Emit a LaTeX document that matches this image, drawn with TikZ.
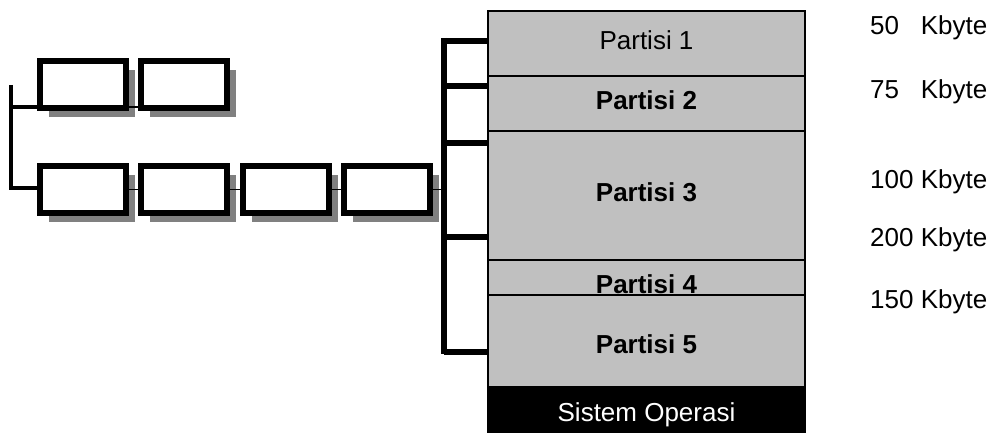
\documentclass[tikz,border=0pt]{standalone}
\usepackage{fontspec}
\setmainfont{Liberation Sans}
\usetikzlibrary{shadows}

\definecolor{memgray}{HTML}{C0C0C0}
\definecolor{shadowgray}{HTML}{808080}
\newcommand\bigfont{\fontsize{26pt}{30pt}\selectfont}
\newcommand\shiftup[2]{\raisebox{#1}[\height][\depth]{#2}}

\tikzset{
    part/.style={draw=black, line width=1.2pt, fill=memgray, minimum width=317pt, inner sep=0pt, font=\bigfont\bfseries},
    job/.style={draw=black, line width=6pt, fill=white, minimum width=86pt, minimum height=47pt, inner sep=0pt,
        drop shadow={shadow xshift=9pt, shadow yshift=-9pt, fill=shadowgray, opacity=1}},
    link/.style={line width=1.5pt},
    bracket/.style={line width=5.5pt},
    size/.style={anchor=west, inner sep=0pt, font=\bigfont},
}

\begin{document}
\begin{tikzpicture}[x=1pt, y=-1pt]
    \useasboundingbox (0,0) rectangle (993,433);
    \clip (0,0) rectangle (993,433);

    % memori
    \node[part, minimum height=65] (p1) at (646.5,43.5) {\mdseries\shiftup{3.5pt}{Partisi 1}};
    \node[part, minimum height=55] (p2) at (646.5,103.5) {\shiftup{3.5pt}{Partisi 2}};
    \node[part, minimum height=129] (p3) at (646.5,195.5) {\shiftup{3.5pt}{Partisi 3}};
    \node[part, minimum height=35] (p4) at (646.5,277.5) {};
    \node[anchor=base, inner sep=0pt, font=\bigfont\bfseries] (p4 label) at ([yshift=2pt]p4.south) {Partisi 4};
    \node[part, minimum height=92] (p5) at (646.5,341) {\shiftup{-3.5pt}{Partisi 5}};
    \node[part, fill=black, text=white, minimum height=53] (os) at (646.5,413.5) {\mdseries\shiftup{-1pt}{Sistem Operasi}};

    % ukuran
    \node[size] (k50)  at (870,28)  {50\phantom{0} Kbyte};
    \node[size] (k75)  at (870,92)  {75\phantom{0} Kbyte};
    \node[size] (k100) at (870,182) {100 Kbyte};
    \node[size] (k200) at (870,240) {200 Kbyte};
    \node[size] (k150) at (870,302) {150 Kbyte};

    % antrian
    \foreach \i/\x in {1/83,2/184} \node[job] (t\i) at (\x,85) {};
    \foreach \i/\x in {1/83,2/184,3/285.5,4/387} \node[job] (b\i) at (\x,189.5) {};

    \coordinate (lb) at (11,85);
    \coordinate (rb) at (444,38);

    \draw[line width=4pt] (lb) -- (11,190);
    \draw[line width=4pt] (lb |- 0,107) -- (t1.west |- 0,107);
    \draw[line width=4pt] (lb |- 0,188) -- (b1.west |- 0,188);

    \draw[link] (t1.east |- 0,107) -- (t2.west |- 0,107);
    \foreach \a/\b in {1/2,2/3,3/4} \draw[link] (b\a.east) -- (b\b.west);
    \draw[link] (b4.east) -- (rb |- b4);

    \draw[bracket] (rb) -- (444,354);
    \foreach \y in {41,86,143,237,352} \draw[bracket] (rb |- 0,\y) -- (p1.west |- 0,\y);

\end{tikzpicture}
\end{document}
